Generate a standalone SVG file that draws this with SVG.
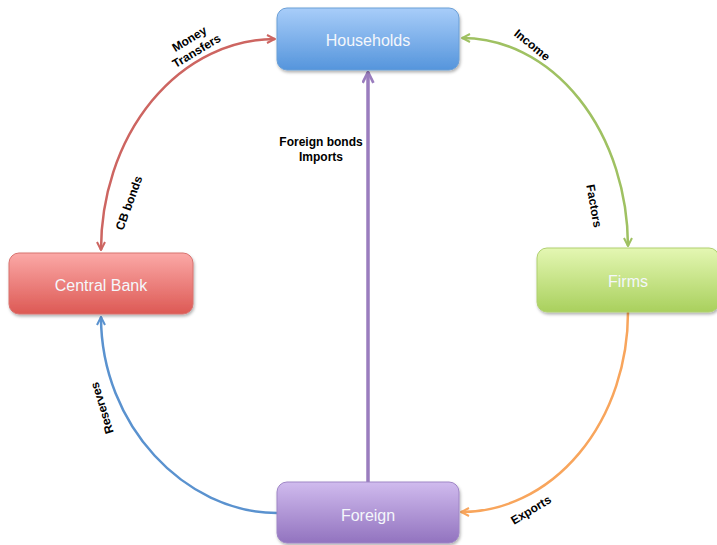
<svg xmlns="http://www.w3.org/2000/svg" width="717" height="545" viewBox="0 0 717 545">
<style>
.node text{font-family:"Liberation Sans",Arial,sans-serif;font-size:16px;fill:#f4f7fb;text-anchor:middle;dominant-baseline:central}
.lbl{font-family:"Liberation Sans",Arial,sans-serif;font-size:12px;font-weight:bold;fill:#000;text-anchor:middle}
.c{fill:none;stroke-width:2.5}
</style>
<defs>
<linearGradient id="gB" x1="0" y1="0" x2="0" y2="1"><stop offset="0" stop-color="#a8cdf9"/><stop offset="1" stop-color="#5595dc"/></linearGradient>
<linearGradient id="gR" x1="0" y1="0" x2="0" y2="1"><stop offset="0" stop-color="#fba9a7"/><stop offset="1" stop-color="#dd5954"/></linearGradient>
<linearGradient id="gG" x1="0" y1="0" x2="0" y2="1"><stop offset="0" stop-color="#e4f7b3"/><stop offset="1" stop-color="#a9d05d"/></linearGradient>
<linearGradient id="gP" x1="0" y1="0" x2="0" y2="1"><stop offset="0" stop-color="#d0bbee"/><stop offset="1" stop-color="#9273bf"/></linearGradient>
<filter id="sh" x="-10%" y="-10%" width="125%" height="135%"><feDropShadow dx="1" dy="2" stdDeviation="1.5" flood-color="#000" flood-opacity="0.3"/></filter>
<marker id="mR" viewBox="0 0 10 10" refX="9" refY="5" markerWidth="10" markerHeight="10" markerUnits="userSpaceOnUse" orient="auto-start-reverse"><path d="M1,1 L9,5 L1,9" fill="none" stroke="#cd6561" stroke-width="2"/></marker>
<marker id="mG" viewBox="0 0 10 10" refX="9" refY="5" markerWidth="10" markerHeight="10" markerUnits="userSpaceOnUse" orient="auto-start-reverse"><path d="M1,1 L9,5 L1,9" fill="none" stroke="#9fc162" stroke-width="2"/></marker>
<marker id="mO" viewBox="0 0 10 10" refX="9" refY="5" markerWidth="10" markerHeight="10" markerUnits="userSpaceOnUse" orient="auto-start-reverse"><path d="M1,1 L9,5 L1,9" fill="none" stroke="#f8a55c" stroke-width="2"/></marker>
<marker id="mB" viewBox="0 0 10 10" refX="9" refY="5" markerWidth="10" markerHeight="10" markerUnits="userSpaceOnUse" orient="auto-start-reverse"><path d="M1,1 L9,5 L1,9" fill="none" stroke="#5a92cf" stroke-width="2"/></marker>
<marker id="mP" viewBox="0 0 12 12" refX="11" refY="6" markerWidth="13" markerHeight="13" markerUnits="userSpaceOnUse" orient="auto-start-reverse"><path d="M1,1 L11,6 L1,11" fill="none" stroke="#9a7dbe" stroke-width="2.5"/></marker>
</defs>
<rect width="717" height="545" fill="#fff"/>
<g id="connectors">
<path class="c" d="M101,250 A174,211 0 0 1 275,39" stroke="#cd6561" marker-start="url(#mR)" marker-end="url(#mR)"/>
<path class="c" d="M462,38 A166,209 0 0 1 628,246" stroke="#9fc162" marker-start="url(#mG)" marker-end="url(#mG)"/>
<path class="c" d="M628,312 A167,200 0 0 1 461,512" stroke="#f8a55c" marker-end="url(#mO)"/>
<path class="c" d="M277,513 C185,513 101,425 101,317" stroke="#5a92cf" marker-end="url(#mB)"/>
<path d="M368,482 L368,72" fill="none" stroke="#9a7dbe" stroke-width="3.5" marker-end="url(#mP)"/>
</g>
<g id="households" class="node">
<rect x="277" y="8" width="182" height="62" rx="10" fill="url(#gB)" stroke="#6b9fd6" stroke-width="1" filter="url(#sh)"/>
<text x="368" y="40">Households</text>
</g>
<g id="centralbank" class="node">
<rect x="9" y="253" width="184" height="61" rx="10" fill="url(#gR)" stroke="#d8726f" stroke-width="1" filter="url(#sh)"/>
<text x="101" y="285">Central Bank</text>
</g>
<g id="firms" class="node">
<rect x="537" y="248" width="182" height="64" rx="10" fill="url(#gG)" stroke="#b0d070" stroke-width="1" filter="url(#sh)"/>
<text x="628" y="281">Firms</text>
</g>
<g id="foreign" class="node">
<rect x="277" y="482" width="182" height="61" rx="10" fill="url(#gP)" stroke="#9f86c6" stroke-width="1" filter="url(#sh)"/>
<text x="368" y="515">Foreign</text>
</g>
<g id="labels">
<text class="lbl" transform="translate(193,45) rotate(-31)"><tspan x="0" y="-3">Money</tspan><tspan x="0" y="11">Transfers</tspan></text>
<text class="lbl" transform="translate(129,203) rotate(-70)" dy="4">CB bonds</text>
<text class="lbl" transform="translate(532,45) rotate(39)" dy="4">Income</text>
<text class="lbl" transform="translate(594,206) rotate(80)" dy="4">Factors</text>
<text class="lbl" transform="translate(102,408) rotate(-107)" dy="4">Reserves</text>
<text class="lbl" transform="translate(531,510) rotate(-31)" dy="4">Exports</text>
<text class="lbl" x="321" y="146">Foreign bonds</text>
<text class="lbl" x="321" y="161">Imports</text>
</g>
</svg>
